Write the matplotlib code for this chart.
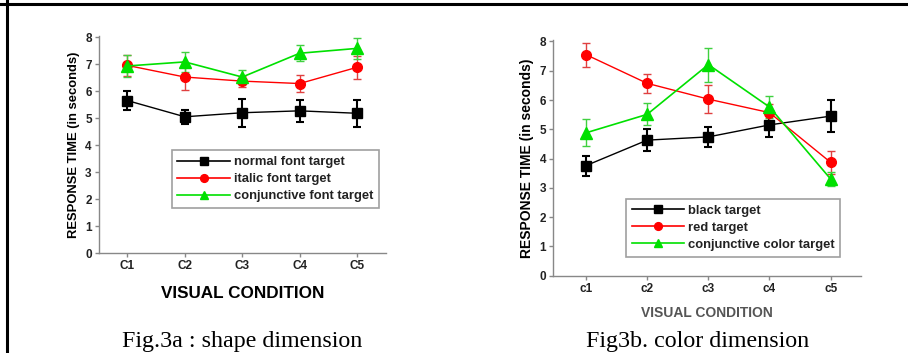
import matplotlib
matplotlib.use('Agg')
import matplotlib.pyplot as plt
from matplotlib.lines import Line2D

plt.rcParams['font.family'] = ['Liberation Sans', 'DejaVu Sans']

# Fig.3a : shape dimension
conds_a = ['C1', 'C2', 'C3', 'C4', 'C5']
normal_font = [5.65, 5.05, 5.2, 5.27, 5.18]
normal_font_err = [0.35, 0.25, 0.52, 0.4, 0.5]
italic_font = [6.95, 6.52, 6.37, 6.28, 6.88]
italic_font_err = [0.4, 0.47, 0.2, 0.33, 0.43]
conj_font = [6.93, 7.08, 6.52, 7.4, 7.58]
conj_font_err = [0.42, 0.38, 0.27, 0.3, 0.38]
labels_a = ['normal font target', 'italic font target', 'conjunctive font target']

# Fig3b. color dimension
conds_b = ['c1', 'c2', 'c3', 'c4', 'c5']
black_t = [3.76, 4.63, 4.74, 5.15, 5.45]
black_t_err = [0.34, 0.38, 0.34, 0.41, 0.54]
red_t = [7.55, 6.57, 6.03, 5.57, 3.87]
red_t_err = [0.41, 0.32, 0.49, 0.3, 0.4]
conj_color = [4.88, 5.51, 7.21, 5.76, 3.30]
conj_color_err = [0.46, 0.38, 0.58, 0.37, 0.23]
labels_b = ['black target', 'red target', 'conjunctive color target']

yticks = [0, 1, 2, 3, 4, 5, 6, 7, 8]

fig = plt.figure(figsize=(9.08, 3.53), dpi=100)

# page borders (top and left)
fig.add_artist(Line2D([0, 1], [1 - 4/353, 1 - 4/353], color='black', lw=2.2))
fig.add_artist(Line2D([7/908, 7/908], [0, 1], color='black', lw=2.2))

styles = [dict(color='black', ecolor='black', marker='s', ms=6.5, elw=1.5, lw=1.0),
          dict(color='#ff0000', ecolor='#e04040', marker='o', ms=7, elw=1.0, lw=1.0),
          dict(color='#00e000', ecolor='#40d040', marker='^', ms=8, elw=1.0, lw=1.2)]


def draw(ax, conds, series, errs, labels, xlim, legpos, ylab_size, xlabel, xl_kw):
    x = list(range(1, len(conds) + 1))
    handles = []
    for y, e, lab, st in zip(series, errs, labels, styles):
        ax.errorbar(x, y, yerr=e, color=st['color'], ecolor=st['ecolor'], marker=st['marker'],
                    ms=st['ms'], lw=st['lw'], elinewidth=st['elw'], capsize=3,
                    capthick=st['elw'])
        handles.append(Line2D([], [], color=st['color'], marker=st['marker'],
                              ms=st['ms'] * 0.8, lw=1.2, label=lab))
    ax.set_xlim(*xlim)
    ax.set_ylim(0, 8.05)
    ax.set_xticks(x)
    ax.set_xticklabels(conds, fontsize=8.5, fontweight='bold', color='#222222')
    ax.set_yticks(yticks)
    ax.set_yticklabels([str(t) for t in yticks], fontsize=8.5, fontweight='bold', color='#222222')
    for s in ['top', 'right']:
        ax.spines[s].set_visible(False)
    for s in ['left', 'bottom']:
        ax.spines[s].set_color('#888888')
        ax.spines[s].set_linewidth(1.0)
    ax.tick_params(color='#888888', length=3, width=1, pad=2)
    ax.set_ylabel('RESPONSE TIME (in seconds)', fontsize=ylab_size, fontweight='bold', labelpad=4)
    ax.set_xlabel(xlabel, **xl_kw)
    leg = ax.legend(handles=handles, loc='lower left', bbox_to_anchor=legpos, fontsize=9.4,
                    frameon=True, fancybox=False, edgecolor='#888888', handlelength=4.0,
                    borderpad=0.45, labelspacing=0.36, handletextpad=0.3, borderaxespad=0)
    leg.get_frame().set_linewidth(1.2)
    for t in leg.get_texts():
        t.set_fontweight('bold')
        t.set_color('#222222')


ax1 = fig.add_axes([0.1087, 0.2824, 0.3161, 0.6165])
draw(ax1, conds_a, [normal_font, italic_font, conj_font],
     [normal_font_err, italic_font_err, conj_font_err], labels_a, (0.5, 5.5),
     (0.254, 0.208), 9.4, 'VISUAL CONDITION',
     dict(fontsize=12.3, fontweight='bold', labelpad=10))

ax2 = fig.add_axes([0.609, 0.219, 0.3395, 0.6677])
draw(ax2, conds_b, [black_t, red_t, conj_color],
     [black_t_err, red_t_err, conj_color_err], labels_b, (0.46, 5.5),
     (0.236, 0.081), 10, 'VISUAL CONDITION',
     dict(fontsize=10, fontweight='bold', color='#555555', labelpad=8))

fig.text(0.2665, 1 - 342/353, 'Fig.3a : shape dimension', ha='center', va='center',
         fontsize=17.3, family='Liberation Serif')
fig.text(0.7687, 1 - 342/353, 'Fig3b. color dimension', ha='center', va='center',
         fontsize=17.3, family='Liberation Serif')

fig.savefig('out.png', dpi=100)
